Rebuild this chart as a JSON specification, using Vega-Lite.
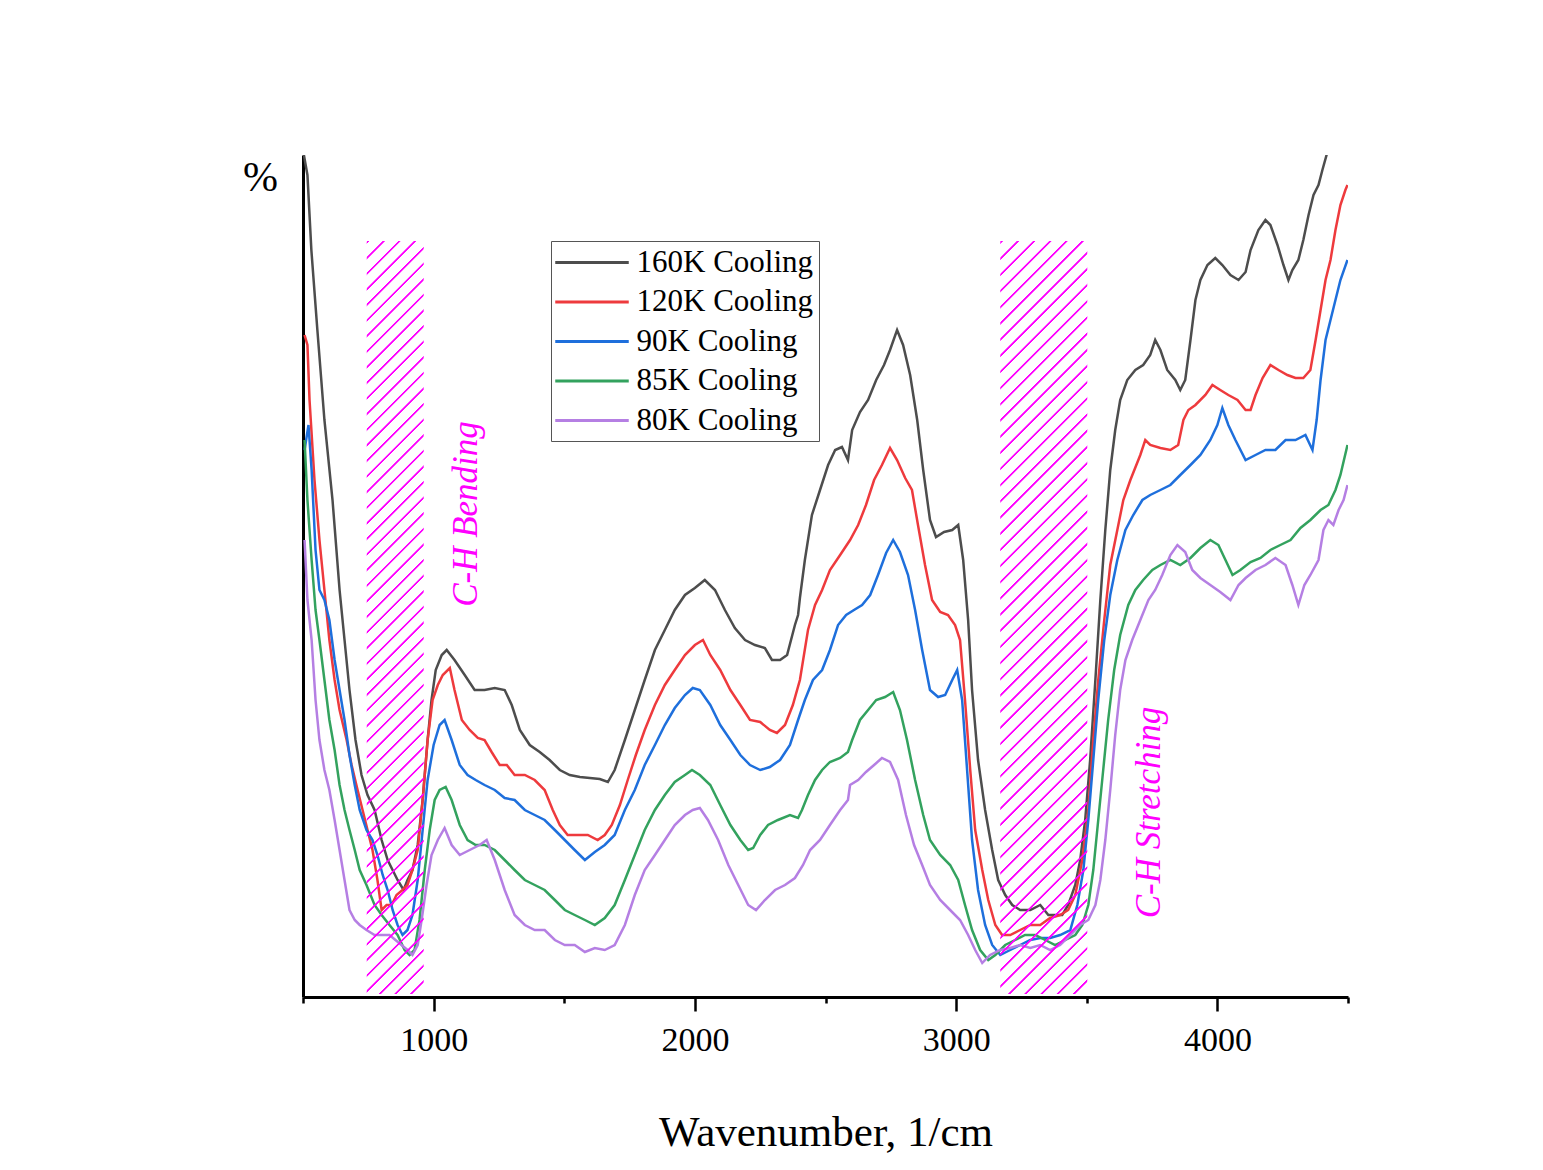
{
"$schema": "https://vega.github.io/schema/vega-lite/v6.json",
"width": 1045, "height": 842,
"autosize": {"type": "none"},
"padding": {"left": 303, "top": 155, "right": 195, "bottom": 173},
"background": "white",
"config": {"view": {"stroke": null}, "font": "Liberation Serif"},
"datasets": {
"spectra": [
{"k":"160K Cooling","w":500,"t":84.7},{"k":"160K Cooling","w":517,"t":82.2},{"k":"160K Cooling","w":532,"t":74.7},{"k":"160K Cooling","w":555,"t":66.7},{"k":"160K Cooling","w":582,"t":57.7},{"k":"160K Cooling","w":613,"t":49.7},{"k":"160K Cooling","w":640,"t":40.7},{"k":"160K Cooling","w":659,"t":35.7},{"k":"160K Cooling","w":678,"t":30.7},{"k":"160K Cooling","w":701,"t":25.7},{"k":"160K Cooling","w":724,"t":22.2},{"k":"160K Cooling","w":747,"t":20.2},{"k":"160K Cooling","w":774,"t":18.7},{"k":"160K Cooling","w":801,"t":15.7},{"k":"160K Cooling","w":824,"t":13.7},{"k":"160K Cooling","w":843,"t":12.7},{"k":"160K Cooling","w":862,"t":11.7},{"k":"160K Cooling","w":885,"t":10.7},{"k":"160K Cooling","w":900,"t":11.7},{"k":"160K Cooling","w":919,"t":12.7},{"k":"160K Cooling","w":939,"t":15.2},{"k":"160K Cooling","w":958,"t":19.7},{"k":"160K Cooling","w":977,"t":25.7},{"k":"160K Cooling","w":992,"t":29.7},{"k":"160K Cooling","w":1008,"t":32.7},{"k":"160K Cooling","w":1031,"t":34.2},{"k":"160K Cooling","w":1050,"t":34.7},{"k":"160K Cooling","w":1080,"t":33.7},{"k":"160K Cooling","w":1119,"t":32.2},{"k":"160K Cooling","w":1157,"t":30.7},{"k":"160K Cooling","w":1195,"t":30.7},{"k":"160K Cooling","w":1234,"t":30.9},{"k":"160K Cooling","w":1272,"t":30.7},{"k":"160K Cooling","w":1299,"t":29.2},{"k":"160K Cooling","w":1330,"t":26.7},{"k":"160K Cooling","w":1368,"t":25.2},{"k":"160K Cooling","w":1406,"t":24.5},{"k":"160K Cooling","w":1444,"t":23.7},{"k":"160K Cooling","w":1483,"t":22.7},{"k":"160K Cooling","w":1521,"t":22.2},{"k":"160K Cooling","w":1560,"t":22.0},{"k":"160K Cooling","w":1598,"t":21.9},{"k":"160K Cooling","w":1636,"t":21.8},{"k":"160K Cooling","w":1667,"t":21.5},{"k":"160K Cooling","w":1693,"t":22.7},{"k":"160K Cooling","w":1732,"t":25.7},{"k":"160K Cooling","w":1770,"t":28.7},{"k":"160K Cooling","w":1808,"t":31.7},{"k":"160K Cooling","w":1847,"t":34.7},{"k":"160K Cooling","w":1885,"t":36.7},{"k":"160K Cooling","w":1923,"t":38.7},{"k":"160K Cooling","w":1962,"t":40.2},{"k":"160K Cooling","w":2000,"t":40.9},{"k":"160K Cooling","w":2038,"t":41.7},{"k":"160K Cooling","w":2077,"t":40.7},{"k":"160K Cooling","w":2115,"t":38.7},{"k":"160K Cooling","w":2153,"t":36.9},{"k":"160K Cooling","w":2192,"t":35.7},{"k":"160K Cooling","w":2230,"t":35.2},{"k":"160K Cooling","w":2268,"t":34.9},{"k":"160K Cooling","w":2295,"t":33.7},{"k":"160K Cooling","w":2326,"t":33.7},{"k":"160K Cooling","w":2353,"t":34.2},{"k":"160K Cooling","w":2383,"t":37.2},{"k":"160K Cooling","w":2395,"t":38.2},{"k":"160K Cooling","w":2402,"t":39.9},{"k":"160K Cooling","w":2421,"t":43.7},{"k":"160K Cooling","w":2448,"t":48.2},{"k":"160K Cooling","w":2479,"t":50.7},{"k":"160K Cooling","w":2510,"t":53.2},{"k":"160K Cooling","w":2537,"t":54.7},{"k":"160K Cooling","w":2563,"t":55.0},{"k":"160K Cooling","w":2586,"t":53.7},{"k":"160K Cooling","w":2602,"t":56.7},{"k":"160K Cooling","w":2632,"t":58.5},{"k":"160K Cooling","w":2663,"t":59.7},{"k":"160K Cooling","w":2694,"t":61.7},{"k":"160K Cooling","w":2724,"t":63.2},{"k":"160K Cooling","w":2747,"t":64.7},{"k":"160K Cooling","w":2774,"t":66.7},{"k":"160K Cooling","w":2797,"t":65.2},{"k":"160K Cooling","w":2824,"t":62.2},{"k":"160K Cooling","w":2851,"t":57.7},{"k":"160K Cooling","w":2874,"t":52.7},{"k":"160K Cooling","w":2900,"t":47.7},{"k":"160K Cooling","w":2923,"t":46.0},{"k":"160K Cooling","w":2954,"t":46.5},{"k":"160K Cooling","w":2985,"t":46.7},{"k":"160K Cooling","w":3008,"t":47.2},{"k":"160K Cooling","w":3027,"t":43.7},{"k":"160K Cooling","w":3046,"t":37.7},{"k":"160K Cooling","w":3061,"t":30.7},{"k":"160K Cooling","w":3084,"t":23.7},{"k":"160K Cooling","w":3111,"t":18.7},{"k":"160K Cooling","w":3138,"t":14.7},{"k":"160K Cooling","w":3161,"t":11.7},{"k":"160K Cooling","w":3188,"t":10.2},{"k":"160K Cooling","w":3215,"t":9.2},{"k":"160K Cooling","w":3245,"t":8.7},{"k":"160K Cooling","w":3284,"t":8.7},{"k":"160K Cooling","w":3322,"t":9.2},{"k":"160K Cooling","w":3353,"t":8.2},{"k":"160K Cooling","w":3379,"t":8.2},{"k":"160K Cooling","w":3406,"t":8.2},{"k":"160K Cooling","w":3429,"t":9.2},{"k":"160K Cooling","w":3456,"t":11.2},{"k":"160K Cooling","w":3475,"t":13.7},{"k":"160K Cooling","w":3494,"t":17.7},{"k":"160K Cooling","w":3513,"t":23.7},{"k":"160K Cooling","w":3533,"t":31.7},{"k":"160K Cooling","w":3552,"t":39.7},{"k":"160K Cooling","w":3571,"t":46.7},{"k":"160K Cooling","w":3590,"t":52.7},{"k":"160K Cooling","w":3609,"t":56.7},{"k":"160K Cooling","w":3628,"t":59.7},{"k":"160K Cooling","w":3655,"t":61.7},{"k":"160K Cooling","w":3686,"t":62.7},{"k":"160K Cooling","w":3716,"t":63.2},{"k":"160K Cooling","w":3743,"t":64.2},{"k":"160K Cooling","w":3762,"t":65.7},{"k":"160K Cooling","w":3782,"t":64.7},{"k":"160K Cooling","w":3808,"t":62.7},{"k":"160K Cooling","w":3839,"t":61.7},{"k":"160K Cooling","w":3858,"t":60.7},{"k":"160K Cooling","w":3877,"t":61.7},{"k":"160K Cooling","w":3897,"t":65.7},{"k":"160K Cooling","w":3916,"t":69.7},{"k":"160K Cooling","w":3935,"t":71.7},{"k":"160K Cooling","w":3962,"t":73.2},{"k":"160K Cooling","w":3992,"t":73.9},{"k":"160K Cooling","w":4019,"t":73.2},{"k":"160K Cooling","w":4050,"t":72.2},{"k":"160K Cooling","w":4081,"t":71.7},{"k":"160K Cooling","w":4108,"t":72.5},{"k":"160K Cooling","w":4127,"t":74.7},{"k":"160K Cooling","w":4157,"t":76.7},{"k":"160K Cooling","w":4184,"t":77.7},{"k":"160K Cooling","w":4203,"t":77.2},{"k":"160K Cooling","w":4230,"t":75.2},{"k":"160K Cooling","w":4253,"t":73.2},{"k":"160K Cooling","w":4272,"t":71.7},{"k":"160K Cooling","w":4287,"t":72.7},{"k":"160K Cooling","w":4310,"t":73.7},{"k":"160K Cooling","w":4329,"t":75.7},{"k":"160K Cooling","w":4349,"t":78.2},{"k":"160K Cooling","w":4368,"t":80.2},{"k":"160K Cooling","w":4387,"t":81.2},{"k":"160K Cooling","w":4402,"t":82.7},{"k":"160K Cooling","w":4418,"t":84.2},{"k":"160K Cooling","w":4440,"t":86.2},
{"k":"120K Cooling","w":506,"t":66.2},{"k":"120K Cooling","w":517,"t":65.2},{"k":"120K Cooling","w":525,"t":59.7},{"k":"120K Cooling","w":544,"t":51.7},{"k":"120K Cooling","w":563,"t":45.7},{"k":"120K Cooling","w":582,"t":40.7},{"k":"120K Cooling","w":601,"t":35.7},{"k":"120K Cooling","w":621,"t":31.7},{"k":"120K Cooling","w":640,"t":28.7},{"k":"120K Cooling","w":667,"t":25.7},{"k":"120K Cooling","w":686,"t":23.2},{"k":"120K Cooling","w":709,"t":20.7},{"k":"120K Cooling","w":728,"t":18.7},{"k":"120K Cooling","w":747,"t":16.7},{"k":"120K Cooling","w":766,"t":14.7},{"k":"120K Cooling","w":785,"t":11.7},{"k":"120K Cooling","w":801,"t":8.7},{"k":"120K Cooling","w":820,"t":9.2},{"k":"120K Cooling","w":839,"t":9.2},{"k":"120K Cooling","w":858,"t":10.2},{"k":"120K Cooling","w":881,"t":10.7},{"k":"120K Cooling","w":900,"t":11.2},{"k":"120K Cooling","w":919,"t":12.7},{"k":"120K Cooling","w":939,"t":14.7},{"k":"120K Cooling","w":958,"t":19.7},{"k":"120K Cooling","w":977,"t":25.7},{"k":"120K Cooling","w":996,"t":29.7},{"k":"120K Cooling","w":1016,"t":31.2},{"k":"120K Cooling","w":1035,"t":32.2},{"k":"120K Cooling","w":1062,"t":32.9},{"k":"120K Cooling","w":1080,"t":30.7},{"k":"120K Cooling","w":1108,"t":27.7},{"k":"120K Cooling","w":1138,"t":26.7},{"k":"120K Cooling","w":1169,"t":25.9},{"k":"120K Cooling","w":1195,"t":25.7},{"k":"120K Cooling","w":1222,"t":24.5},{"k":"120K Cooling","w":1253,"t":23.2},{"k":"120K Cooling","w":1280,"t":23.2},{"k":"120K Cooling","w":1310,"t":22.2},{"k":"120K Cooling","w":1349,"t":22.2},{"k":"120K Cooling","w":1387,"t":21.7},{"k":"120K Cooling","w":1425,"t":20.7},{"k":"120K Cooling","w":1456,"t":18.7},{"k":"120K Cooling","w":1483,"t":17.2},{"k":"120K Cooling","w":1513,"t":16.2},{"k":"120K Cooling","w":1552,"t":16.2},{"k":"120K Cooling","w":1590,"t":16.2},{"k":"120K Cooling","w":1628,"t":15.7},{"k":"120K Cooling","w":1655,"t":16.2},{"k":"120K Cooling","w":1682,"t":17.2},{"k":"120K Cooling","w":1713,"t":19.2},{"k":"120K Cooling","w":1743,"t":21.7},{"k":"120K Cooling","w":1774,"t":24.2},{"k":"120K Cooling","w":1808,"t":26.7},{"k":"120K Cooling","w":1847,"t":29.2},{"k":"120K Cooling","w":1885,"t":31.2},{"k":"120K Cooling","w":1923,"t":32.7},{"k":"120K Cooling","w":1962,"t":34.2},{"k":"120K Cooling","w":2000,"t":35.2},{"k":"120K Cooling","w":2031,"t":35.7},{"k":"120K Cooling","w":2059,"t":34.2},{"k":"120K Cooling","w":2097,"t":32.7},{"k":"120K Cooling","w":2136,"t":30.7},{"k":"120K Cooling","w":2174,"t":29.2},{"k":"120K Cooling","w":2211,"t":27.7},{"k":"120K Cooling","w":2250,"t":27.5},{"k":"120K Cooling","w":2287,"t":26.7},{"k":"120K Cooling","w":2314,"t":26.4},{"k":"120K Cooling","w":2345,"t":27.2},{"k":"120K Cooling","w":2375,"t":29.2},{"k":"120K Cooling","w":2402,"t":31.7},{"k":"120K Cooling","w":2433,"t":36.7},{"k":"120K Cooling","w":2460,"t":39.2},{"k":"120K Cooling","w":2487,"t":40.7},{"k":"120K Cooling","w":2517,"t":42.7},{"k":"120K Cooling","w":2556,"t":44.2},{"k":"120K Cooling","w":2594,"t":45.7},{"k":"120K Cooling","w":2625,"t":47.2},{"k":"120K Cooling","w":2655,"t":49.2},{"k":"120K Cooling","w":2686,"t":51.7},{"k":"120K Cooling","w":2716,"t":53.2},{"k":"120K Cooling","w":2747,"t":54.9},{"k":"120K Cooling","w":2774,"t":53.7},{"k":"120K Cooling","w":2805,"t":51.9},{"k":"120K Cooling","w":2831,"t":50.7},{"k":"120K Cooling","w":2854,"t":47.2},{"k":"120K Cooling","w":2881,"t":43.2},{"k":"120K Cooling","w":2908,"t":39.7},{"k":"120K Cooling","w":2939,"t":38.5},{"k":"120K Cooling","w":2969,"t":38.2},{"k":"120K Cooling","w":2996,"t":37.2},{"k":"120K Cooling","w":3015,"t":35.7},{"k":"120K Cooling","w":3034,"t":29.7},{"k":"120K Cooling","w":3054,"t":22.7},{"k":"120K Cooling","w":3073,"t":16.7},{"k":"120K Cooling","w":3100,"t":12.7},{"k":"120K Cooling","w":3123,"t":9.7},{"k":"120K Cooling","w":3150,"t":7.2},{"k":"120K Cooling","w":3176,"t":6.2},{"k":"120K Cooling","w":3207,"t":6.2},{"k":"120K Cooling","w":3245,"t":6.7},{"k":"120K Cooling","w":3284,"t":7.2},{"k":"120K Cooling","w":3322,"t":7.2},{"k":"120K Cooling","w":3360,"t":7.9},{"k":"120K Cooling","w":3398,"t":8.2},{"k":"120K Cooling","w":3429,"t":8.7},{"k":"120K Cooling","w":3456,"t":10.2},{"k":"120K Cooling","w":3483,"t":13.7},{"k":"120K Cooling","w":3506,"t":18.7},{"k":"120K Cooling","w":3525,"t":25.7},{"k":"120K Cooling","w":3544,"t":31.7},{"k":"120K Cooling","w":3567,"t":37.7},{"k":"120K Cooling","w":3590,"t":43.2},{"k":"120K Cooling","w":3617,"t":46.7},{"k":"120K Cooling","w":3640,"t":49.7},{"k":"120K Cooling","w":3667,"t":51.7},{"k":"120K Cooling","w":3705,"t":54.2},{"k":"120K Cooling","w":3724,"t":55.7},{"k":"120K Cooling","w":3743,"t":55.2},{"k":"120K Cooling","w":3782,"t":54.9},{"k":"120K Cooling","w":3820,"t":54.7},{"k":"120K Cooling","w":3850,"t":55.2},{"k":"120K Cooling","w":3870,"t":57.7},{"k":"120K Cooling","w":3889,"t":58.7},{"k":"120K Cooling","w":3916,"t":59.2},{"k":"120K Cooling","w":3954,"t":60.2},{"k":"120K Cooling","w":3981,"t":61.2},{"k":"120K Cooling","w":4011,"t":60.7},{"k":"120K Cooling","w":4042,"t":60.2},{"k":"120K Cooling","w":4077,"t":59.7},{"k":"120K Cooling","w":4108,"t":58.7},{"k":"120K Cooling","w":4127,"t":58.7},{"k":"120K Cooling","w":4146,"t":60.2},{"k":"120K Cooling","w":4173,"t":61.9},{"k":"120K Cooling","w":4203,"t":63.2},{"k":"120K Cooling","w":4234,"t":62.7},{"k":"120K Cooling","w":4268,"t":62.2},{"k":"120K Cooling","w":4299,"t":61.9},{"k":"120K Cooling","w":4329,"t":61.9},{"k":"120K Cooling","w":4356,"t":62.7},{"k":"120K Cooling","w":4376,"t":65.7},{"k":"120K Cooling","w":4395,"t":68.7},{"k":"120K Cooling","w":4414,"t":71.7},{"k":"120K Cooling","w":4433,"t":73.7},{"k":"120K Cooling","w":4452,"t":76.7},{"k":"120K Cooling","w":4471,"t":79.2},{"k":"120K Cooling","w":4490,"t":80.7},{"k":"120K Cooling","w":4498,"t":81.2},
{"k":"90K Cooling","w":506,"t":54.7},{"k":"90K Cooling","w":521,"t":57.2},{"k":"90K Cooling","w":533,"t":52.7},{"k":"90K Cooling","w":548,"t":44.7},{"k":"90K Cooling","w":563,"t":40.7},{"k":"90K Cooling","w":582,"t":39.7},{"k":"90K Cooling","w":601,"t":37.7},{"k":"90K Cooling","w":621,"t":33.7},{"k":"90K Cooling","w":640,"t":30.7},{"k":"90K Cooling","w":659,"t":27.7},{"k":"90K Cooling","w":678,"t":24.2},{"k":"90K Cooling","w":698,"t":21.2},{"k":"90K Cooling","w":717,"t":18.7},{"k":"90K Cooling","w":743,"t":16.7},{"k":"90K Cooling","w":766,"t":15.7},{"k":"90K Cooling","w":785,"t":14.2},{"k":"90K Cooling","w":805,"t":12.2},{"k":"90K Cooling","w":824,"t":10.7},{"k":"90K Cooling","w":843,"t":8.7},{"k":"90K Cooling","w":862,"t":7.2},{"k":"90K Cooling","w":881,"t":6.2},{"k":"90K Cooling","w":900,"t":6.7},{"k":"90K Cooling","w":919,"t":8.2},{"k":"90K Cooling","w":939,"t":11.7},{"k":"90K Cooling","w":958,"t":16.7},{"k":"90K Cooling","w":977,"t":21.7},{"k":"90K Cooling","w":1000,"t":25.2},{"k":"90K Cooling","w":1023,"t":27.2},{"k":"90K Cooling","w":1042,"t":27.7},{"k":"90K Cooling","w":1069,"t":25.7},{"k":"90K Cooling","w":1100,"t":23.2},{"k":"90K Cooling","w":1130,"t":22.2},{"k":"90K Cooling","w":1161,"t":21.7},{"k":"90K Cooling","w":1195,"t":21.2},{"k":"90K Cooling","w":1234,"t":20.7},{"k":"90K Cooling","w":1272,"t":19.9},{"k":"90K Cooling","w":1310,"t":19.7},{"k":"90K Cooling","w":1349,"t":18.7},{"k":"90K Cooling","w":1387,"t":18.2},{"k":"90K Cooling","w":1425,"t":17.7},{"k":"90K Cooling","w":1464,"t":16.7},{"k":"90K Cooling","w":1502,"t":15.7},{"k":"90K Cooling","w":1540,"t":14.7},{"k":"90K Cooling","w":1579,"t":13.7},{"k":"90K Cooling","w":1617,"t":14.5},{"k":"90K Cooling","w":1655,"t":15.2},{"k":"90K Cooling","w":1693,"t":16.2},{"k":"90K Cooling","w":1732,"t":18.7},{"k":"90K Cooling","w":1770,"t":20.7},{"k":"90K Cooling","w":1808,"t":23.2},{"k":"90K Cooling","w":1847,"t":25.2},{"k":"90K Cooling","w":1885,"t":27.2},{"k":"90K Cooling","w":1923,"t":28.9},{"k":"90K Cooling","w":1962,"t":30.2},{"k":"90K Cooling","w":1992,"t":30.9},{"k":"90K Cooling","w":2019,"t":30.7},{"k":"90K Cooling","w":2059,"t":29.2},{"k":"90K Cooling","w":2097,"t":27.2},{"k":"90K Cooling","w":2136,"t":25.7},{"k":"90K Cooling","w":2174,"t":24.2},{"k":"90K Cooling","w":2211,"t":23.2},{"k":"90K Cooling","w":2250,"t":22.7},{"k":"90K Cooling","w":2287,"t":23.0},{"k":"90K Cooling","w":2326,"t":23.7},{"k":"90K Cooling","w":2364,"t":25.2},{"k":"90K Cooling","w":2395,"t":27.7},{"k":"90K Cooling","w":2421,"t":29.7},{"k":"90K Cooling","w":2452,"t":31.7},{"k":"90K Cooling","w":2487,"t":32.7},{"k":"90K Cooling","w":2517,"t":34.7},{"k":"90K Cooling","w":2548,"t":37.2},{"k":"90K Cooling","w":2579,"t":38.2},{"k":"90K Cooling","w":2609,"t":38.7},{"k":"90K Cooling","w":2640,"t":39.2},{"k":"90K Cooling","w":2671,"t":40.2},{"k":"90K Cooling","w":2701,"t":42.2},{"k":"90K Cooling","w":2732,"t":44.4},{"k":"90K Cooling","w":2759,"t":45.7},{"k":"90K Cooling","w":2785,"t":44.5},{"k":"90K Cooling","w":2816,"t":42.2},{"k":"90K Cooling","w":2843,"t":38.7},{"k":"90K Cooling","w":2870,"t":34.7},{"k":"90K Cooling","w":2900,"t":30.7},{"k":"90K Cooling","w":2931,"t":30.0},{"k":"90K Cooling","w":2958,"t":30.2},{"k":"90K Cooling","w":2985,"t":31.7},{"k":"90K Cooling","w":3004,"t":32.7},{"k":"90K Cooling","w":3023,"t":29.7},{"k":"90K Cooling","w":3042,"t":22.7},{"k":"90K Cooling","w":3061,"t":15.7},{"k":"90K Cooling","w":3084,"t":10.7},{"k":"90K Cooling","w":3111,"t":7.2},{"k":"90K Cooling","w":3138,"t":5.2},{"k":"90K Cooling","w":3169,"t":4.2},{"k":"90K Cooling","w":3207,"t":4.7},{"k":"90K Cooling","w":3245,"t":5.2},{"k":"90K Cooling","w":3284,"t":5.7},{"k":"90K Cooling","w":3322,"t":5.9},{"k":"90K Cooling","w":3360,"t":5.9},{"k":"90K Cooling","w":3398,"t":6.2},{"k":"90K Cooling","w":3437,"t":6.7},{"k":"90K Cooling","w":3464,"t":9.2},{"k":"90K Cooling","w":3487,"t":12.7},{"k":"90K Cooling","w":3506,"t":17.7},{"k":"90K Cooling","w":3525,"t":23.7},{"k":"90K Cooling","w":3544,"t":29.7},{"k":"90K Cooling","w":3567,"t":35.7},{"k":"90K Cooling","w":3590,"t":40.2},{"k":"90K Cooling","w":3617,"t":43.7},{"k":"90K Cooling","w":3648,"t":46.7},{"k":"90K Cooling","w":3678,"t":48.2},{"k":"90K Cooling","w":3713,"t":49.7},{"k":"90K Cooling","w":3743,"t":50.2},{"k":"90K Cooling","w":3782,"t":50.7},{"k":"90K Cooling","w":3820,"t":51.2},{"k":"90K Cooling","w":3858,"t":52.2},{"k":"90K Cooling","w":3897,"t":53.2},{"k":"90K Cooling","w":3935,"t":54.2},{"k":"90K Cooling","w":3973,"t":55.7},{"k":"90K Cooling","w":4000,"t":57.2},{"k":"90K Cooling","w":4019,"t":58.9},{"k":"90K Cooling","w":4042,"t":57.2},{"k":"90K Cooling","w":4069,"t":55.7},{"k":"90K Cooling","w":4108,"t":53.7},{"k":"90K Cooling","w":4146,"t":54.2},{"k":"90K Cooling","w":4184,"t":54.7},{"k":"90K Cooling","w":4222,"t":54.7},{"k":"90K Cooling","w":4261,"t":55.7},{"k":"90K Cooling","w":4299,"t":55.7},{"k":"90K Cooling","w":4337,"t":56.2},{"k":"90K Cooling","w":4364,"t":54.7},{"k":"90K Cooling","w":4380,"t":57.7},{"k":"90K Cooling","w":4395,"t":61.7},{"k":"90K Cooling","w":4414,"t":65.7},{"k":"90K Cooling","w":4433,"t":67.7},{"k":"90K Cooling","w":4452,"t":69.7},{"k":"90K Cooling","w":4471,"t":71.7},{"k":"90K Cooling","w":4498,"t":73.7},
{"k":"85K Cooling","w":506,"t":55.7},{"k":"85K Cooling","w":517,"t":49.7},{"k":"85K Cooling","w":533,"t":43.7},{"k":"85K Cooling","w":548,"t":38.7},{"k":"85K Cooling","w":563,"t":35.7},{"k":"85K Cooling","w":582,"t":31.7},{"k":"85K Cooling","w":601,"t":27.7},{"k":"85K Cooling","w":621,"t":24.7},{"k":"85K Cooling","w":640,"t":21.2},{"k":"85K Cooling","w":659,"t":18.7},{"k":"85K Cooling","w":678,"t":16.7},{"k":"85K Cooling","w":698,"t":14.7},{"k":"85K Cooling","w":717,"t":12.7},{"k":"85K Cooling","w":743,"t":11.2},{"k":"85K Cooling","w":774,"t":9.2},{"k":"85K Cooling","w":801,"t":8.2},{"k":"85K Cooling","w":831,"t":7.2},{"k":"85K Cooling","w":862,"t":6.2},{"k":"85K Cooling","w":889,"t":4.7},{"k":"85K Cooling","w":908,"t":4.2},{"k":"85K Cooling","w":927,"t":4.7},{"k":"85K Cooling","w":946,"t":7.7},{"k":"85K Cooling","w":966,"t":12.7},{"k":"85K Cooling","w":985,"t":16.7},{"k":"85K Cooling","w":1004,"t":19.7},{"k":"85K Cooling","w":1023,"t":20.7},{"k":"85K Cooling","w":1046,"t":21.0},{"k":"85K Cooling","w":1069,"t":19.7},{"k":"85K Cooling","w":1100,"t":17.2},{"k":"85K Cooling","w":1130,"t":15.7},{"k":"85K Cooling","w":1161,"t":15.2},{"k":"85K Cooling","w":1195,"t":15.2},{"k":"85K Cooling","w":1234,"t":14.7},{"k":"85K Cooling","w":1272,"t":13.7},{"k":"85K Cooling","w":1310,"t":12.7},{"k":"85K Cooling","w":1349,"t":11.7},{"k":"85K Cooling","w":1387,"t":11.2},{"k":"85K Cooling","w":1425,"t":10.7},{"k":"85K Cooling","w":1464,"t":9.7},{"k":"85K Cooling","w":1502,"t":8.7},{"k":"85K Cooling","w":1540,"t":8.2},{"k":"85K Cooling","w":1579,"t":7.7},{"k":"85K Cooling","w":1617,"t":7.2},{"k":"85K Cooling","w":1655,"t":7.9},{"k":"85K Cooling","w":1693,"t":9.2},{"k":"85K Cooling","w":1732,"t":11.7},{"k":"85K Cooling","w":1770,"t":14.2},{"k":"85K Cooling","w":1808,"t":16.7},{"k":"85K Cooling","w":1847,"t":18.7},{"k":"85K Cooling","w":1885,"t":20.2},{"k":"85K Cooling","w":1923,"t":21.5},{"k":"85K Cooling","w":1962,"t":22.2},{"k":"85K Cooling","w":1989,"t":22.7},{"k":"85K Cooling","w":2019,"t":22.2},{"k":"85K Cooling","w":2059,"t":21.2},{"k":"85K Cooling","w":2097,"t":19.2},{"k":"85K Cooling","w":2136,"t":17.2},{"k":"85K Cooling","w":2174,"t":15.7},{"k":"85K Cooling","w":2204,"t":14.7},{"k":"85K Cooling","w":2223,"t":14.9},{"k":"85K Cooling","w":2250,"t":16.2},{"k":"85K Cooling","w":2280,"t":17.2},{"k":"85K Cooling","w":2318,"t":17.7},{"k":"85K Cooling","w":2364,"t":18.2},{"k":"85K Cooling","w":2395,"t":17.9},{"k":"85K Cooling","w":2410,"t":18.7},{"k":"85K Cooling","w":2433,"t":20.2},{"k":"85K Cooling","w":2460,"t":21.7},{"k":"85K Cooling","w":2487,"t":22.7},{"k":"85K Cooling","w":2517,"t":23.5},{"k":"85K Cooling","w":2556,"t":23.9},{"k":"85K Cooling","w":2586,"t":24.5},{"k":"85K Cooling","w":2602,"t":25.7},{"k":"85K Cooling","w":2632,"t":27.7},{"k":"85K Cooling","w":2663,"t":28.7},{"k":"85K Cooling","w":2694,"t":29.7},{"k":"85K Cooling","w":2728,"t":30.0},{"k":"85K Cooling","w":2759,"t":30.5},{"k":"85K Cooling","w":2785,"t":28.7},{"k":"85K Cooling","w":2812,"t":25.7},{"k":"85K Cooling","w":2843,"t":21.7},{"k":"85K Cooling","w":2874,"t":18.2},{"k":"85K Cooling","w":2900,"t":15.7},{"k":"85K Cooling","w":2939,"t":14.2},{"k":"85K Cooling","w":2977,"t":13.2},{"k":"85K Cooling","w":3008,"t":11.7},{"k":"85K Cooling","w":3034,"t":9.2},{"k":"85K Cooling","w":3061,"t":6.7},{"k":"85K Cooling","w":3092,"t":4.7},{"k":"85K Cooling","w":3123,"t":3.7},{"k":"85K Cooling","w":3150,"t":4.2},{"k":"85K Cooling","w":3188,"t":5.2},{"k":"85K Cooling","w":3226,"t":5.7},{"k":"85K Cooling","w":3264,"t":6.2},{"k":"85K Cooling","w":3303,"t":6.2},{"k":"85K Cooling","w":3341,"t":5.7},{"k":"85K Cooling","w":3379,"t":5.2},{"k":"85K Cooling","w":3418,"t":5.7},{"k":"85K Cooling","w":3456,"t":6.2},{"k":"85K Cooling","w":3483,"t":7.2},{"k":"85K Cooling","w":3506,"t":9.2},{"k":"85K Cooling","w":3525,"t":12.7},{"k":"85K Cooling","w":3544,"t":17.7},{"k":"85K Cooling","w":3563,"t":22.7},{"k":"85K Cooling","w":3582,"t":27.7},{"k":"85K Cooling","w":3605,"t":32.7},{"k":"85K Cooling","w":3628,"t":36.2},{"k":"85K Cooling","w":3659,"t":39.2},{"k":"85K Cooling","w":3686,"t":40.7},{"k":"85K Cooling","w":3716,"t":41.7},{"k":"85K Cooling","w":3751,"t":42.7},{"k":"85K Cooling","w":3782,"t":43.2},{"k":"85K Cooling","w":3820,"t":43.7},{"k":"85K Cooling","w":3858,"t":43.2},{"k":"85K Cooling","w":3897,"t":43.9},{"k":"85K Cooling","w":3935,"t":44.9},{"k":"85K Cooling","w":3973,"t":45.7},{"k":"85K Cooling","w":4004,"t":45.2},{"k":"85K Cooling","w":4031,"t":43.7},{"k":"85K Cooling","w":4058,"t":42.2},{"k":"85K Cooling","w":4088,"t":42.7},{"k":"85K Cooling","w":4127,"t":43.5},{"k":"85K Cooling","w":4165,"t":43.9},{"k":"85K Cooling","w":4203,"t":44.7},{"k":"85K Cooling","w":4241,"t":45.2},{"k":"85K Cooling","w":4280,"t":45.7},{"k":"85K Cooling","w":4318,"t":46.9},{"k":"85K Cooling","w":4356,"t":47.7},{"k":"85K Cooling","w":4395,"t":48.7},{"k":"85K Cooling","w":4425,"t":49.2},{"k":"85K Cooling","w":4452,"t":50.7},{"k":"85K Cooling","w":4471,"t":52.2},{"k":"85K Cooling","w":4498,"t":55.2},
{"k":"80K Cooling","w":506,"t":45.7},{"k":"80K Cooling","w":517,"t":39.7},{"k":"80K Cooling","w":533,"t":35.7},{"k":"80K Cooling","w":548,"t":29.7},{"k":"80K Cooling","w":563,"t":25.7},{"k":"80K Cooling","w":582,"t":22.7},{"k":"80K Cooling","w":601,"t":20.7},{"k":"80K Cooling","w":621,"t":17.7},{"k":"80K Cooling","w":640,"t":14.7},{"k":"80K Cooling","w":659,"t":11.7},{"k":"80K Cooling","w":678,"t":8.7},{"k":"80K Cooling","w":698,"t":7.7},{"k":"80K Cooling","w":717,"t":7.2},{"k":"80K Cooling","w":743,"t":6.7},{"k":"80K Cooling","w":774,"t":6.2},{"k":"80K Cooling","w":805,"t":6.2},{"k":"80K Cooling","w":831,"t":6.2},{"k":"80K Cooling","w":854,"t":5.7},{"k":"80K Cooling","w":877,"t":5.2},{"k":"80K Cooling","w":900,"t":4.7},{"k":"80K Cooling","w":919,"t":4.2},{"k":"80K Cooling","w":939,"t":5.2},{"k":"80K Cooling","w":954,"t":7.7},{"k":"80K Cooling","w":973,"t":11.2},{"k":"80K Cooling","w":992,"t":14.2},{"k":"80K Cooling","w":1016,"t":15.7},{"k":"80K Cooling","w":1042,"t":16.9},{"k":"80K Cooling","w":1069,"t":15.2},{"k":"80K Cooling","w":1100,"t":14.2},{"k":"80K Cooling","w":1138,"t":14.7},{"k":"80K Cooling","w":1176,"t":15.2},{"k":"80K Cooling","w":1203,"t":15.7},{"k":"80K Cooling","w":1234,"t":13.7},{"k":"80K Cooling","w":1272,"t":10.7},{"k":"80K Cooling","w":1310,"t":8.2},{"k":"80K Cooling","w":1349,"t":7.2},{"k":"80K Cooling","w":1387,"t":6.7},{"k":"80K Cooling","w":1425,"t":6.7},{"k":"80K Cooling","w":1464,"t":5.7},{"k":"80K Cooling","w":1502,"t":5.2},{"k":"80K Cooling","w":1540,"t":5.2},{"k":"80K Cooling","w":1579,"t":4.5},{"k":"80K Cooling","w":1617,"t":4.9},{"k":"80K Cooling","w":1655,"t":4.7},{"k":"80K Cooling","w":1693,"t":5.2},{"k":"80K Cooling","w":1732,"t":7.2},{"k":"80K Cooling","w":1770,"t":10.2},{"k":"80K Cooling","w":1808,"t":12.7},{"k":"80K Cooling","w":1847,"t":14.2},{"k":"80K Cooling","w":1885,"t":15.7},{"k":"80K Cooling","w":1923,"t":17.2},{"k":"80K Cooling","w":1962,"t":18.2},{"k":"80K Cooling","w":1992,"t":18.7},{"k":"80K Cooling","w":2019,"t":18.9},{"k":"80K Cooling","w":2050,"t":17.7},{"k":"80K Cooling","w":2089,"t":15.7},{"k":"80K Cooling","w":2128,"t":13.2},{"k":"80K Cooling","w":2166,"t":11.2},{"k":"80K Cooling","w":2204,"t":9.2},{"k":"80K Cooling","w":2234,"t":8.7},{"k":"80K Cooling","w":2268,"t":9.7},{"k":"80K Cooling","w":2307,"t":10.7},{"k":"80K Cooling","w":2345,"t":11.2},{"k":"80K Cooling","w":2383,"t":11.9},{"k":"80K Cooling","w":2414,"t":13.2},{"k":"80K Cooling","w":2441,"t":14.7},{"k":"80K Cooling","w":2479,"t":15.7},{"k":"80K Cooling","w":2517,"t":17.2},{"k":"80K Cooling","w":2556,"t":18.7},{"k":"80K Cooling","w":2586,"t":19.7},{"k":"80K Cooling","w":2594,"t":21.2},{"k":"80K Cooling","w":2625,"t":21.7},{"k":"80K Cooling","w":2655,"t":22.5},{"k":"80K Cooling","w":2686,"t":23.2},{"k":"80K Cooling","w":2716,"t":23.9},{"k":"80K Cooling","w":2747,"t":23.5},{"k":"80K Cooling","w":2778,"t":21.7},{"k":"80K Cooling","w":2808,"t":18.2},{"k":"80K Cooling","w":2839,"t":15.2},{"k":"80K Cooling","w":2870,"t":13.2},{"k":"80K Cooling","w":2900,"t":11.2},{"k":"80K Cooling","w":2939,"t":9.7},{"k":"80K Cooling","w":2977,"t":8.7},{"k":"80K Cooling","w":3015,"t":7.7},{"k":"80K Cooling","w":3046,"t":6.2},{"k":"80K Cooling","w":3073,"t":4.7},{"k":"80K Cooling","w":3100,"t":3.4},{"k":"80K Cooling","w":3130,"t":4.2},{"k":"80K Cooling","w":3169,"t":4.7},{"k":"80K Cooling","w":3207,"t":4.9},{"k":"80K Cooling","w":3245,"t":5.2},{"k":"80K Cooling","w":3284,"t":4.9},{"k":"80K Cooling","w":3322,"t":5.2},{"k":"80K Cooling","w":3360,"t":4.7},{"k":"80K Cooling","w":3398,"t":5.2},{"k":"80K Cooling","w":3437,"t":6.2},{"k":"80K Cooling","w":3475,"t":7.2},{"k":"80K Cooling","w":3506,"t":7.7},{"k":"80K Cooling","w":3533,"t":9.2},{"k":"80K Cooling","w":3552,"t":11.7},{"k":"80K Cooling","w":3571,"t":15.7},{"k":"80K Cooling","w":3590,"t":20.7},{"k":"80K Cooling","w":3609,"t":26.2},{"k":"80K Cooling","w":3628,"t":30.7},{"k":"80K Cooling","w":3648,"t":33.7},{"k":"80K Cooling","w":3674,"t":35.7},{"k":"80K Cooling","w":3705,"t":37.7},{"k":"80K Cooling","w":3736,"t":39.7},{"k":"80K Cooling","w":3762,"t":40.7},{"k":"80K Cooling","w":3789,"t":42.2},{"k":"80K Cooling","w":3820,"t":44.2},{"k":"80K Cooling","w":3847,"t":45.2},{"k":"80K Cooling","w":3877,"t":44.5},{"k":"80K Cooling","w":3904,"t":42.7},{"k":"80K Cooling","w":3935,"t":41.9},{"k":"80K Cooling","w":3973,"t":41.2},{"k":"80K Cooling","w":4011,"t":40.5},{"k":"80K Cooling","w":4050,"t":39.7},{"k":"80K Cooling","w":4081,"t":41.2},{"k":"80K Cooling","w":4108,"t":41.9},{"k":"80K Cooling","w":4146,"t":42.7},{"k":"80K Cooling","w":4184,"t":43.2},{"k":"80K Cooling","w":4222,"t":43.9},{"k":"80K Cooling","w":4261,"t":43.2},{"k":"80K Cooling","w":4287,"t":41.2},{"k":"80K Cooling","w":4310,"t":39.2},{"k":"80K Cooling","w":4333,"t":41.2},{"k":"80K Cooling","w":4356,"t":42.2},{"k":"80K Cooling","w":4387,"t":43.7},{"k":"80K Cooling","w":4406,"t":46.7},{"k":"80K Cooling","w":4425,"t":47.7},{"k":"80K Cooling","w":4444,"t":47.2},{"k":"80K Cooling","w":4464,"t":48.7},{"k":"80K Cooling","w":4483,"t":49.7},{"k":"80K Cooling","w":4498,"t":51.2}
],
"bands": [
{"band":"C-H Bending","w0":744,"w1":962,"t0":0.3,"t1":75.6},
{"band":"C-H Stretching","w0":3169,"w1":3502,"t0":0.3,"t1":75.6}
],
"notes": [
{"label":"C-H Bending","w":1124,"t":48.3},
{"label":"C-H Stretching","w":3738,"t":18.45}
]
},
"layer": [
{
"data": {"name": "spectra"},
"mark": {"type": "line", "strokeWidth": 2.5, "clip": true},
"encoding": {
"x": {"field": "w", "type": "quantitative", "title": "Wavenumber, 1/cm",
"scale": {"domain": [500, 4500], "nice": false, "zero": false},
"axis": {"title": "Wavenumber, 1/cm", "values": [500,1000,1500,2000,2500,3000,3500,4000,4500], "format": "d",
"labelExpr": "datum.value % 1000 === 0 ? datum.label : ''",
"grid": false, "domainColor": "black", "domainWidth": 3, "tickColor": "black", "tickWidth": 2.5,
"tickSize": {"condition": {"test": "datum.value % 1000 === 0", "value": 14}, "value": 6},
"labelFont": "Liberation Serif", "labelFontSize": 34, "labelColor": "black", "labelBaseline": "alphabetic", "labelPadding": 39,
"labelFlush": false, "labelOverlap": false,
"titleFont": "Liberation Serif", "titleFontSize": 43, "titleFontWeight": "normal", "titleColor": "black",
"titleBaseline": "alphabetic", "titleY": 148}},
"y": {"field": "t", "type": "quantitative", "title": "%",
"scale": {"domain": [0, 84.2], "nice": false, "zero": false},
"axis": {"title": "%", "ticks": false, "labels": false, "grid": false, "domainColor": "black", "domainWidth": 3,
"titleAngle": 0, "titleFont": "Liberation Serif", "titleFontSize": 42, "titleFontWeight": "normal", "titleColor": "black",
"titleAlign": "center", "titleBaseline": "alphabetic", "titleX": -43, "titleY": 35}},
"color": {"field": "k", "type": "nominal",
"scale": {"domain": ["160K Cooling","120K Cooling","90K Cooling","85K Cooling","80K Cooling"],
"range": ["#4d4d4d","#ee3a3d","#1e6fdc","#33a25e","#b57fe3"]},
"legend": {"title": null, "orient": "none", "legendX": 248, "legendY": 86,
"strokeColor": "#555555", "fillColor": "white", "padding": 5,
"symbolType": "M-2.45,0H2.45", "symbolSize": 900, "symbolStrokeWidth": 3, "symbolOffset": 19.5,
"labelFont": "Liberation Serif", "labelFontSize": 31, "labelColor": "black", "labelOffset": 28, "labelLimit": 400, "rowPadding": 7.5}}
}
},
{
"data": {"name": "bands"},
"transform": [{"filter": "datum.band === 'C-H Bending'"}],
"mark": {"type": "rect", "fill": {"gradient": "linear", "x1": 0, "y1": 0, "x2": 0.08108, "y2": 1.07115,
"stops": [
{"offset":0,"color":"#ff00ff00"},{"offset":0.001,"color":"#ff00ff"},{"offset":0.003,"color":"#ff00ff"},{"offset":0.004,"color":"#ff00ff00"},
{"offset":0.0192,"color":"#ff00ff00"},{"offset":0.0202,"color":"#ff00ff"},{"offset":0.0222,"color":"#ff00ff"},{"offset":0.0232,"color":"#ff00ff00"},
{"offset":0.0385,"color":"#ff00ff00"},{"offset":0.0395,"color":"#ff00ff"},{"offset":0.0415,"color":"#ff00ff"},{"offset":0.0425,"color":"#ff00ff00"},
{"offset":0.0577,"color":"#ff00ff00"},{"offset":0.0587,"color":"#ff00ff"},{"offset":0.0607,"color":"#ff00ff"},{"offset":0.0617,"color":"#ff00ff00"},
{"offset":0.0769,"color":"#ff00ff00"},{"offset":0.0779,"color":"#ff00ff"},{"offset":0.0799,"color":"#ff00ff"},{"offset":0.0809,"color":"#ff00ff00"},
{"offset":0.0962,"color":"#ff00ff00"},{"offset":0.0972,"color":"#ff00ff"},{"offset":0.0992,"color":"#ff00ff"},{"offset":0.1002,"color":"#ff00ff00"},
{"offset":0.1154,"color":"#ff00ff00"},{"offset":0.1164,"color":"#ff00ff"},{"offset":0.1184,"color":"#ff00ff"},{"offset":0.1194,"color":"#ff00ff00"},
{"offset":0.1346,"color":"#ff00ff00"},{"offset":0.1356,"color":"#ff00ff"},{"offset":0.1376,"color":"#ff00ff"},{"offset":0.1386,"color":"#ff00ff00"},
{"offset":0.1538,"color":"#ff00ff00"},{"offset":0.1548,"color":"#ff00ff"},{"offset":0.1568,"color":"#ff00ff"},{"offset":0.1578,"color":"#ff00ff00"},
{"offset":0.1731,"color":"#ff00ff00"},{"offset":0.1741,"color":"#ff00ff"},{"offset":0.1761,"color":"#ff00ff"},{"offset":0.1771,"color":"#ff00ff00"},
{"offset":0.1923,"color":"#ff00ff00"},{"offset":0.1933,"color":"#ff00ff"},{"offset":0.1953,"color":"#ff00ff"},{"offset":0.1963,"color":"#ff00ff00"},
{"offset":0.2115,"color":"#ff00ff00"},{"offset":0.2125,"color":"#ff00ff"},{"offset":0.2145,"color":"#ff00ff"},{"offset":0.2155,"color":"#ff00ff00"},
{"offset":0.2308,"color":"#ff00ff00"},{"offset":0.2318,"color":"#ff00ff"},{"offset":0.2338,"color":"#ff00ff"},{"offset":0.2348,"color":"#ff00ff00"},
{"offset":0.2500,"color":"#ff00ff00"},{"offset":0.2510,"color":"#ff00ff"},{"offset":0.2530,"color":"#ff00ff"},{"offset":0.2540,"color":"#ff00ff00"},
{"offset":0.2692,"color":"#ff00ff00"},{"offset":0.2702,"color":"#ff00ff"},{"offset":0.2722,"color":"#ff00ff"},{"offset":0.2732,"color":"#ff00ff00"},
{"offset":0.2885,"color":"#ff00ff00"},{"offset":0.2895,"color":"#ff00ff"},{"offset":0.2915,"color":"#ff00ff"},{"offset":0.2925,"color":"#ff00ff00"},
{"offset":0.3077,"color":"#ff00ff00"},{"offset":0.3087,"color":"#ff00ff"},{"offset":0.3107,"color":"#ff00ff"},{"offset":0.3117,"color":"#ff00ff00"},
{"offset":0.3269,"color":"#ff00ff00"},{"offset":0.3279,"color":"#ff00ff"},{"offset":0.3299,"color":"#ff00ff"},{"offset":0.3309,"color":"#ff00ff00"},
{"offset":0.3462,"color":"#ff00ff00"},{"offset":0.3472,"color":"#ff00ff"},{"offset":0.3492,"color":"#ff00ff"},{"offset":0.3502,"color":"#ff00ff00"},
{"offset":0.3654,"color":"#ff00ff00"},{"offset":0.3664,"color":"#ff00ff"},{"offset":0.3684,"color":"#ff00ff"},{"offset":0.3694,"color":"#ff00ff00"},
{"offset":0.3846,"color":"#ff00ff00"},{"offset":0.3856,"color":"#ff00ff"},{"offset":0.3876,"color":"#ff00ff"},{"offset":0.3886,"color":"#ff00ff00"},
{"offset":0.4038,"color":"#ff00ff00"},{"offset":0.4048,"color":"#ff00ff"},{"offset":0.4068,"color":"#ff00ff"},{"offset":0.4078,"color":"#ff00ff00"},
{"offset":0.4231,"color":"#ff00ff00"},{"offset":0.4241,"color":"#ff00ff"},{"offset":0.4261,"color":"#ff00ff"},{"offset":0.4271,"color":"#ff00ff00"},
{"offset":0.4423,"color":"#ff00ff00"},{"offset":0.4433,"color":"#ff00ff"},{"offset":0.4453,"color":"#ff00ff"},{"offset":0.4463,"color":"#ff00ff00"},
{"offset":0.4615,"color":"#ff00ff00"},{"offset":0.4625,"color":"#ff00ff"},{"offset":0.4645,"color":"#ff00ff"},{"offset":0.4655,"color":"#ff00ff00"},
{"offset":0.4808,"color":"#ff00ff00"},{"offset":0.4818,"color":"#ff00ff"},{"offset":0.4838,"color":"#ff00ff"},{"offset":0.4848,"color":"#ff00ff00"},
{"offset":0.5000,"color":"#ff00ff00"},{"offset":0.5010,"color":"#ff00ff"},{"offset":0.5030,"color":"#ff00ff"},{"offset":0.5040,"color":"#ff00ff00"},
{"offset":0.5192,"color":"#ff00ff00"},{"offset":0.5202,"color":"#ff00ff"},{"offset":0.5222,"color":"#ff00ff"},{"offset":0.5232,"color":"#ff00ff00"},
{"offset":0.5385,"color":"#ff00ff00"},{"offset":0.5395,"color":"#ff00ff"},{"offset":0.5415,"color":"#ff00ff"},{"offset":0.5425,"color":"#ff00ff00"},
{"offset":0.5577,"color":"#ff00ff00"},{"offset":0.5587,"color":"#ff00ff"},{"offset":0.5607,"color":"#ff00ff"},{"offset":0.5617,"color":"#ff00ff00"},
{"offset":0.5769,"color":"#ff00ff00"},{"offset":0.5779,"color":"#ff00ff"},{"offset":0.5799,"color":"#ff00ff"},{"offset":0.5809,"color":"#ff00ff00"},
{"offset":0.5962,"color":"#ff00ff00"},{"offset":0.5972,"color":"#ff00ff"},{"offset":0.5992,"color":"#ff00ff"},{"offset":0.6002,"color":"#ff00ff00"},
{"offset":0.6154,"color":"#ff00ff00"},{"offset":0.6164,"color":"#ff00ff"},{"offset":0.6184,"color":"#ff00ff"},{"offset":0.6194,"color":"#ff00ff00"},
{"offset":0.6346,"color":"#ff00ff00"},{"offset":0.6356,"color":"#ff00ff"},{"offset":0.6376,"color":"#ff00ff"},{"offset":0.6386,"color":"#ff00ff00"},
{"offset":0.6538,"color":"#ff00ff00"},{"offset":0.6548,"color":"#ff00ff"},{"offset":0.6568,"color":"#ff00ff"},{"offset":0.6578,"color":"#ff00ff00"},
{"offset":0.6731,"color":"#ff00ff00"},{"offset":0.6741,"color":"#ff00ff"},{"offset":0.6761,"color":"#ff00ff"},{"offset":0.6771,"color":"#ff00ff00"},
{"offset":0.6923,"color":"#ff00ff00"},{"offset":0.6933,"color":"#ff00ff"},{"offset":0.6953,"color":"#ff00ff"},{"offset":0.6963,"color":"#ff00ff00"},
{"offset":0.7115,"color":"#ff00ff00"},{"offset":0.7125,"color":"#ff00ff"},{"offset":0.7145,"color":"#ff00ff"},{"offset":0.7155,"color":"#ff00ff00"},
{"offset":0.7308,"color":"#ff00ff00"},{"offset":0.7318,"color":"#ff00ff"},{"offset":0.7338,"color":"#ff00ff"},{"offset":0.7348,"color":"#ff00ff00"},
{"offset":0.7500,"color":"#ff00ff00"},{"offset":0.7510,"color":"#ff00ff"},{"offset":0.7530,"color":"#ff00ff"},{"offset":0.7540,"color":"#ff00ff00"},
{"offset":0.7692,"color":"#ff00ff00"},{"offset":0.7702,"color":"#ff00ff"},{"offset":0.7722,"color":"#ff00ff"},{"offset":0.7732,"color":"#ff00ff00"},
{"offset":0.7885,"color":"#ff00ff00"},{"offset":0.7895,"color":"#ff00ff"},{"offset":0.7915,"color":"#ff00ff"},{"offset":0.7925,"color":"#ff00ff00"},
{"offset":0.8077,"color":"#ff00ff00"},{"offset":0.8087,"color":"#ff00ff"},{"offset":0.8107,"color":"#ff00ff"},{"offset":0.8117,"color":"#ff00ff00"},
{"offset":0.8269,"color":"#ff00ff00"},{"offset":0.8279,"color":"#ff00ff"},{"offset":0.8299,"color":"#ff00ff"},{"offset":0.8309,"color":"#ff00ff00"},
{"offset":0.8462,"color":"#ff00ff00"},{"offset":0.8472,"color":"#ff00ff"},{"offset":0.8492,"color":"#ff00ff"},{"offset":0.8502,"color":"#ff00ff00"},
{"offset":0.8654,"color":"#ff00ff00"},{"offset":0.8664,"color":"#ff00ff"},{"offset":0.8684,"color":"#ff00ff"},{"offset":0.8694,"color":"#ff00ff00"},
{"offset":0.8846,"color":"#ff00ff00"},{"offset":0.8856,"color":"#ff00ff"},{"offset":0.8876,"color":"#ff00ff"},{"offset":0.8886,"color":"#ff00ff00"},
{"offset":0.9038,"color":"#ff00ff00"},{"offset":0.9048,"color":"#ff00ff"},{"offset":0.9068,"color":"#ff00ff"},{"offset":0.9078,"color":"#ff00ff00"},
{"offset":0.9231,"color":"#ff00ff00"},{"offset":0.9241,"color":"#ff00ff"},{"offset":0.9261,"color":"#ff00ff"},{"offset":0.9271,"color":"#ff00ff00"},
{"offset":0.9423,"color":"#ff00ff00"},{"offset":0.9433,"color":"#ff00ff"},{"offset":0.9453,"color":"#ff00ff"},{"offset":0.9463,"color":"#ff00ff00"},
{"offset":0.9615,"color":"#ff00ff00"},{"offset":0.9625,"color":"#ff00ff"},{"offset":0.9645,"color":"#ff00ff"},{"offset":0.9655,"color":"#ff00ff00"},
{"offset":0.9808,"color":"#ff00ff00"},{"offset":0.9818,"color":"#ff00ff"},{"offset":0.9838,"color":"#ff00ff"},{"offset":0.9848,"color":"#ff00ff00"},
{"offset":1,"color":"#ff00ff00"}
]}},
"encoding": {
"x": {"field": "w0", "type": "quantitative", "title": "Wavenumber, 1/cm"},
"x2": {"field": "w1"},
"y": {"field": "t1", "type": "quantitative", "title": "%"},
"y2": {"field": "t0"}
}
},
{
"data": {"name": "bands"},
"transform": [{"filter": "datum.band === 'C-H Stretching'"}],
"mark": {"type": "rect", "fill": {"gradient": "linear", "x1": 0, "y1": 0, "x2": 0.12734, "y2": 1.10217,
"stops": [
{"offset":0,"color":"#ff00ff00"},{"offset":0.001,"color":"#ff00ff"},{"offset":0.003,"color":"#ff00ff"},{"offset":0.004,"color":"#ff00ff00"},
{"offset":0.0192,"color":"#ff00ff00"},{"offset":0.0202,"color":"#ff00ff"},{"offset":0.0222,"color":"#ff00ff"},{"offset":0.0232,"color":"#ff00ff00"},
{"offset":0.0385,"color":"#ff00ff00"},{"offset":0.0395,"color":"#ff00ff"},{"offset":0.0415,"color":"#ff00ff"},{"offset":0.0425,"color":"#ff00ff00"},
{"offset":0.0577,"color":"#ff00ff00"},{"offset":0.0587,"color":"#ff00ff"},{"offset":0.0607,"color":"#ff00ff"},{"offset":0.0617,"color":"#ff00ff00"},
{"offset":0.0769,"color":"#ff00ff00"},{"offset":0.0779,"color":"#ff00ff"},{"offset":0.0799,"color":"#ff00ff"},{"offset":0.0809,"color":"#ff00ff00"},
{"offset":0.0962,"color":"#ff00ff00"},{"offset":0.0972,"color":"#ff00ff"},{"offset":0.0992,"color":"#ff00ff"},{"offset":0.1002,"color":"#ff00ff00"},
{"offset":0.1154,"color":"#ff00ff00"},{"offset":0.1164,"color":"#ff00ff"},{"offset":0.1184,"color":"#ff00ff"},{"offset":0.1194,"color":"#ff00ff00"},
{"offset":0.1346,"color":"#ff00ff00"},{"offset":0.1356,"color":"#ff00ff"},{"offset":0.1376,"color":"#ff00ff"},{"offset":0.1386,"color":"#ff00ff00"},
{"offset":0.1538,"color":"#ff00ff00"},{"offset":0.1548,"color":"#ff00ff"},{"offset":0.1568,"color":"#ff00ff"},{"offset":0.1578,"color":"#ff00ff00"},
{"offset":0.1731,"color":"#ff00ff00"},{"offset":0.1741,"color":"#ff00ff"},{"offset":0.1761,"color":"#ff00ff"},{"offset":0.1771,"color":"#ff00ff00"},
{"offset":0.1923,"color":"#ff00ff00"},{"offset":0.1933,"color":"#ff00ff"},{"offset":0.1953,"color":"#ff00ff"},{"offset":0.1963,"color":"#ff00ff00"},
{"offset":0.2115,"color":"#ff00ff00"},{"offset":0.2125,"color":"#ff00ff"},{"offset":0.2145,"color":"#ff00ff"},{"offset":0.2155,"color":"#ff00ff00"},
{"offset":0.2308,"color":"#ff00ff00"},{"offset":0.2318,"color":"#ff00ff"},{"offset":0.2338,"color":"#ff00ff"},{"offset":0.2348,"color":"#ff00ff00"},
{"offset":0.2500,"color":"#ff00ff00"},{"offset":0.2510,"color":"#ff00ff"},{"offset":0.2530,"color":"#ff00ff"},{"offset":0.2540,"color":"#ff00ff00"},
{"offset":0.2692,"color":"#ff00ff00"},{"offset":0.2702,"color":"#ff00ff"},{"offset":0.2722,"color":"#ff00ff"},{"offset":0.2732,"color":"#ff00ff00"},
{"offset":0.2885,"color":"#ff00ff00"},{"offset":0.2895,"color":"#ff00ff"},{"offset":0.2915,"color":"#ff00ff"},{"offset":0.2925,"color":"#ff00ff00"},
{"offset":0.3077,"color":"#ff00ff00"},{"offset":0.3087,"color":"#ff00ff"},{"offset":0.3107,"color":"#ff00ff"},{"offset":0.3117,"color":"#ff00ff00"},
{"offset":0.3269,"color":"#ff00ff00"},{"offset":0.3279,"color":"#ff00ff"},{"offset":0.3299,"color":"#ff00ff"},{"offset":0.3309,"color":"#ff00ff00"},
{"offset":0.3462,"color":"#ff00ff00"},{"offset":0.3472,"color":"#ff00ff"},{"offset":0.3492,"color":"#ff00ff"},{"offset":0.3502,"color":"#ff00ff00"},
{"offset":0.3654,"color":"#ff00ff00"},{"offset":0.3664,"color":"#ff00ff"},{"offset":0.3684,"color":"#ff00ff"},{"offset":0.3694,"color":"#ff00ff00"},
{"offset":0.3846,"color":"#ff00ff00"},{"offset":0.3856,"color":"#ff00ff"},{"offset":0.3876,"color":"#ff00ff"},{"offset":0.3886,"color":"#ff00ff00"},
{"offset":0.4038,"color":"#ff00ff00"},{"offset":0.4048,"color":"#ff00ff"},{"offset":0.4068,"color":"#ff00ff"},{"offset":0.4078,"color":"#ff00ff00"},
{"offset":0.4231,"color":"#ff00ff00"},{"offset":0.4241,"color":"#ff00ff"},{"offset":0.4261,"color":"#ff00ff"},{"offset":0.4271,"color":"#ff00ff00"},
{"offset":0.4423,"color":"#ff00ff00"},{"offset":0.4433,"color":"#ff00ff"},{"offset":0.4453,"color":"#ff00ff"},{"offset":0.4463,"color":"#ff00ff00"},
{"offset":0.4615,"color":"#ff00ff00"},{"offset":0.4625,"color":"#ff00ff"},{"offset":0.4645,"color":"#ff00ff"},{"offset":0.4655,"color":"#ff00ff00"},
{"offset":0.4808,"color":"#ff00ff00"},{"offset":0.4818,"color":"#ff00ff"},{"offset":0.4838,"color":"#ff00ff"},{"offset":0.4848,"color":"#ff00ff00"},
{"offset":0.5000,"color":"#ff00ff00"},{"offset":0.5010,"color":"#ff00ff"},{"offset":0.5030,"color":"#ff00ff"},{"offset":0.5040,"color":"#ff00ff00"},
{"offset":0.5192,"color":"#ff00ff00"},{"offset":0.5202,"color":"#ff00ff"},{"offset":0.5222,"color":"#ff00ff"},{"offset":0.5232,"color":"#ff00ff00"},
{"offset":0.5385,"color":"#ff00ff00"},{"offset":0.5395,"color":"#ff00ff"},{"offset":0.5415,"color":"#ff00ff"},{"offset":0.5425,"color":"#ff00ff00"},
{"offset":0.5577,"color":"#ff00ff00"},{"offset":0.5587,"color":"#ff00ff"},{"offset":0.5607,"color":"#ff00ff"},{"offset":0.5617,"color":"#ff00ff00"},
{"offset":0.5769,"color":"#ff00ff00"},{"offset":0.5779,"color":"#ff00ff"},{"offset":0.5799,"color":"#ff00ff"},{"offset":0.5809,"color":"#ff00ff00"},
{"offset":0.5962,"color":"#ff00ff00"},{"offset":0.5972,"color":"#ff00ff"},{"offset":0.5992,"color":"#ff00ff"},{"offset":0.6002,"color":"#ff00ff00"},
{"offset":0.6154,"color":"#ff00ff00"},{"offset":0.6164,"color":"#ff00ff"},{"offset":0.6184,"color":"#ff00ff"},{"offset":0.6194,"color":"#ff00ff00"},
{"offset":0.6346,"color":"#ff00ff00"},{"offset":0.6356,"color":"#ff00ff"},{"offset":0.6376,"color":"#ff00ff"},{"offset":0.6386,"color":"#ff00ff00"},
{"offset":0.6538,"color":"#ff00ff00"},{"offset":0.6548,"color":"#ff00ff"},{"offset":0.6568,"color":"#ff00ff"},{"offset":0.6578,"color":"#ff00ff00"},
{"offset":0.6731,"color":"#ff00ff00"},{"offset":0.6741,"color":"#ff00ff"},{"offset":0.6761,"color":"#ff00ff"},{"offset":0.6771,"color":"#ff00ff00"},
{"offset":0.6923,"color":"#ff00ff00"},{"offset":0.6933,"color":"#ff00ff"},{"offset":0.6953,"color":"#ff00ff"},{"offset":0.6963,"color":"#ff00ff00"},
{"offset":0.7115,"color":"#ff00ff00"},{"offset":0.7125,"color":"#ff00ff"},{"offset":0.7145,"color":"#ff00ff"},{"offset":0.7155,"color":"#ff00ff00"},
{"offset":0.7308,"color":"#ff00ff00"},{"offset":0.7318,"color":"#ff00ff"},{"offset":0.7338,"color":"#ff00ff"},{"offset":0.7348,"color":"#ff00ff00"},
{"offset":0.7500,"color":"#ff00ff00"},{"offset":0.7510,"color":"#ff00ff"},{"offset":0.7530,"color":"#ff00ff"},{"offset":0.7540,"color":"#ff00ff00"},
{"offset":0.7692,"color":"#ff00ff00"},{"offset":0.7702,"color":"#ff00ff"},{"offset":0.7722,"color":"#ff00ff"},{"offset":0.7732,"color":"#ff00ff00"},
{"offset":0.7885,"color":"#ff00ff00"},{"offset":0.7895,"color":"#ff00ff"},{"offset":0.7915,"color":"#ff00ff"},{"offset":0.7925,"color":"#ff00ff00"},
{"offset":0.8077,"color":"#ff00ff00"},{"offset":0.8087,"color":"#ff00ff"},{"offset":0.8107,"color":"#ff00ff"},{"offset":0.8117,"color":"#ff00ff00"},
{"offset":0.8269,"color":"#ff00ff00"},{"offset":0.8279,"color":"#ff00ff"},{"offset":0.8299,"color":"#ff00ff"},{"offset":0.8309,"color":"#ff00ff00"},
{"offset":0.8462,"color":"#ff00ff00"},{"offset":0.8472,"color":"#ff00ff"},{"offset":0.8492,"color":"#ff00ff"},{"offset":0.8502,"color":"#ff00ff00"},
{"offset":0.8654,"color":"#ff00ff00"},{"offset":0.8664,"color":"#ff00ff"},{"offset":0.8684,"color":"#ff00ff"},{"offset":0.8694,"color":"#ff00ff00"},
{"offset":0.8846,"color":"#ff00ff00"},{"offset":0.8856,"color":"#ff00ff"},{"offset":0.8876,"color":"#ff00ff"},{"offset":0.8886,"color":"#ff00ff00"},
{"offset":0.9038,"color":"#ff00ff00"},{"offset":0.9048,"color":"#ff00ff"},{"offset":0.9068,"color":"#ff00ff"},{"offset":0.9078,"color":"#ff00ff00"},
{"offset":0.9231,"color":"#ff00ff00"},{"offset":0.9241,"color":"#ff00ff"},{"offset":0.9261,"color":"#ff00ff"},{"offset":0.9271,"color":"#ff00ff00"},
{"offset":0.9423,"color":"#ff00ff00"},{"offset":0.9433,"color":"#ff00ff"},{"offset":0.9453,"color":"#ff00ff"},{"offset":0.9463,"color":"#ff00ff00"},
{"offset":0.9615,"color":"#ff00ff00"},{"offset":0.9625,"color":"#ff00ff"},{"offset":0.9645,"color":"#ff00ff"},{"offset":0.9655,"color":"#ff00ff00"},
{"offset":0.9808,"color":"#ff00ff00"},{"offset":0.9818,"color":"#ff00ff"},{"offset":0.9838,"color":"#ff00ff"},{"offset":0.9848,"color":"#ff00ff00"},
{"offset":1,"color":"#ff00ff00"}
]}},
"encoding": {
"x": {"field": "w0", "type": "quantitative", "title": "Wavenumber, 1/cm"},
"x2": {"field": "w1"},
"y": {"field": "t1", "type": "quantitative", "title": "%"},
"y2": {"field": "t0"}
}
},
{
"data": {"name": "notes"},
"mark": {"type": "text", "angle": 270, "align": "center", "baseline": "middle", "font": "Liberation Serif", "fontStyle": "italic", "fontSize": 35, "color": "#ff00ff"},
"encoding": {
"x": {"field": "w", "type": "quantitative", "title": "Wavenumber, 1/cm"},
"y": {"field": "t", "type": "quantitative", "title": "%"},
"text": {"field": "label"}
}
}
]
}
